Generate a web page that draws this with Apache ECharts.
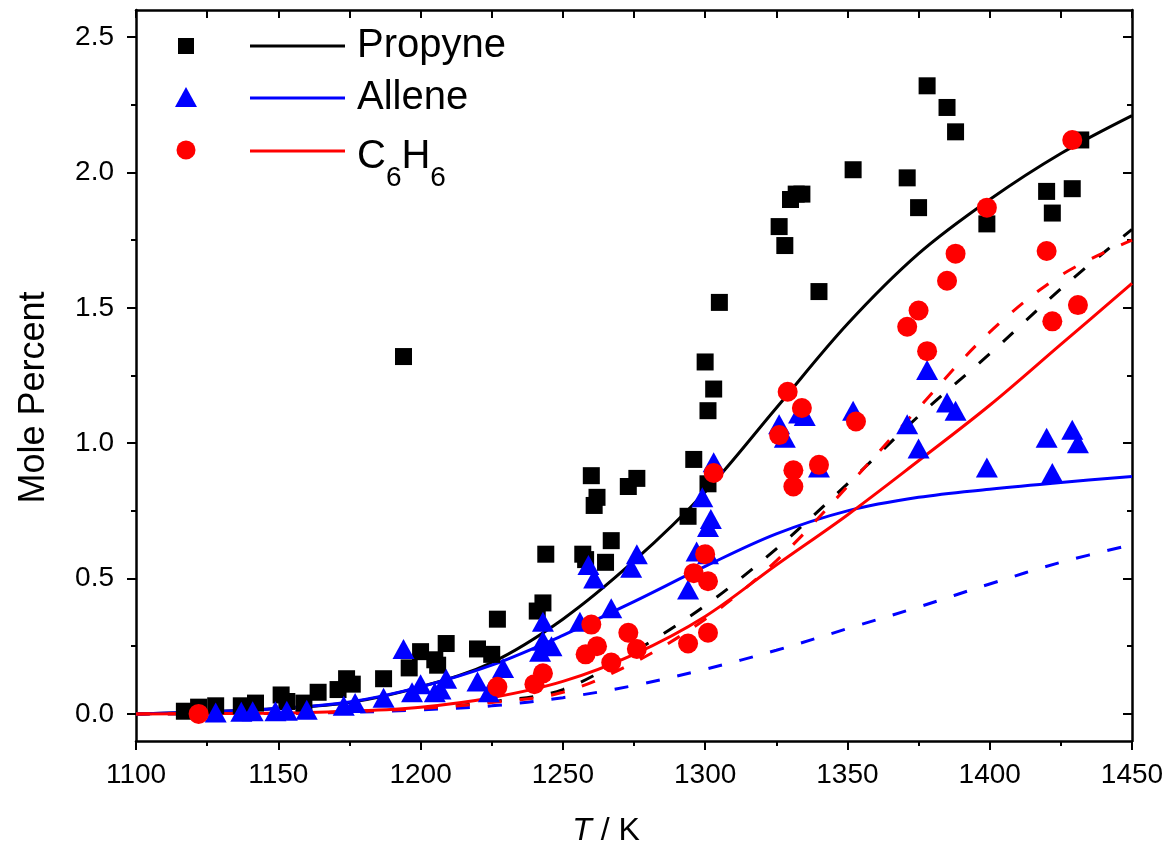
<!DOCTYPE html>
<html>
<head>
<meta charset="utf-8">
<script src="https://cdn.jsdelivr.net/npm/echarts@6/dist/echarts.min.js"></script>
<style>html,body{margin:0;padding:0;background:#fff}#c{width:1171px;height:857px}</style>
</head>
<body>
<div id="c"></div>
<script>
// ---------- data ----------
const propyneT = [1117,1122,1128,1137,1142,1151,1153,1159,1164,1171,1174,1176,1187,1196,1194,1200,1205,1206,1209,1220,1225,1227,1241,1243,1244,1257,1258,1260,1261,1262,1265,1267,1273,1276,1294,1296,1300,1301,1301,1303,1305,1326,1328,1330,1332,1334,1340,1352,1371,1375,1378,1385,1388,1399,1420,1422,1429,1432];
const propyneY = [0.01,0.025,0.03,0.03,0.04,0.07,0.046,0.04,0.08,0.09,0.13,0.11,0.13,0.17,1.32,0.23,0.20,0.18,0.26,0.24,0.22,0.35,0.38,0.41,0.59,0.59,0.57,0.88,0.77,0.80,0.56,0.64,0.84,0.87,0.73,0.94,1.30,1.12,0.85,1.20,1.52,1.80,1.73,1.90,1.92,1.92,1.56,2.01,1.98,1.87,2.32,2.24,2.15,1.81,1.93,1.85,1.94,2.12];

const alleneT = [1128,1137,1141,1149,1153,1160,1173,1177,1187,1194,1197,1200,1205,1207,1209,1220,1224,1229,1242,1243,1243,1246,1256,1259,1261,1267,1274,1276,1294,1297,1301,1299,1302,1303,1301,1326,1328,1333,1335,1340,1352,1371,1375,1378,1385,1388,1399,1420,1422,1429,1431];
const alleneY = [0.005,0.008,0.01,0.01,0.012,0.015,0.03,0.04,0.06,0.24,0.08,0.11,0.08,0.09,0.13,0.12,0.08,0.17,0.23,0.27,0.34,0.25,0.34,0.55,0.50,0.39,0.54,0.59,0.46,0.60,0.59,0.80,0.72,0.93,0.69,1.07,1.02,1.11,1.10,0.91,1.12,1.07,0.98,1.27,1.15,1.12,0.91,1.02,0.89,1.05,1.00];

const benzeneT = [1122,1227,1240,1243,1258,1260,1262,1267,1273,1276,1294,1296,1300,1301,1301,1303,1326,1329,1331,1331,1334,1340,1353,1371,1375,1378,1385,1388,1399,1420,1422,1429,1431];
const benzeneY = [0.0,0.10,0.11,0.15,0.22,0.33,0.25,0.19,0.30,0.24,0.26,0.52,0.59,0.49,0.30,0.89,1.03,1.19,0.84,0.90,1.13,0.92,1.08,1.43,1.49,1.34,1.60,1.70,1.87,1.71,1.45,2.12,1.51];

const curveT = [1100,1125,1150,1175,1200,1225,1250,1275,1300,1325,1350,1375,1400,1425,1450];
const propyneSolid  = [0,0.008,0.02,0.042,0.10,0.19,0.35,0.565,0.82,1.13,1.44,1.70,1.90,2.07,2.21];
const propyneDashed = [0,0.001,0.002,0.008,0.02,0.045,0.09,0.23,0.40,0.61,0.85,1.10,1.33,1.57,1.79];
const alleneSolid   = [0,0.008,0.02,0.044,0.10,0.18,0.29,0.415,0.545,0.665,0.75,0.80,0.83,0.855,0.877];
const alleneDashed  = [0,0.001,0.002,0.006,0.015,0.03,0.06,0.105,0.165,0.235,0.315,0.395,0.48,0.56,0.625];
const benzeneSolid  = [0,0.001,0.003,0.01,0.025,0.06,0.12,0.22,0.36,0.55,0.735,0.935,1.14,1.365,1.59];
const benzeneDashed = [0,0.001,0.002,0.008,0.02,0.042,0.08,0.19,0.35,0.565,0.84,1.13,1.41,1.62,1.75];

const yMajor = [0,0.5,1.0,1.5,2.0,2.5];
const yMinor = [0.25,0.75,1.25,1.75,2.25];

// ---------- chart ----------
const FONT = 'Liberation Sans, Arial, sans-serif';
const zip = (xs, ys) => xs.map((x, i) => [x, ys[i]]);
const chart = echarts.init(document.getElementById('c'), null, {renderer: 'canvas'});

const axisLineStyle = {color: '#000', width: 2.5};
const commonY = {type: 'value', min: -0.1, max: 2.6, splitLine: {show: false}};

function lineSeries(name, ys, color, dashed) {
  return {
    type: 'line', name: name, data: zip(curveT, ys), smooth: 0.35,
    symbol: 'none', showSymbol: false, silent: true, z: 2,
    lineStyle: {color: color, width: 3, type: dashed ? [14, 18] : 'solid'},
    itemStyle: {color: color}
  };
}

function markerLegend(name, cx, cy, w, h) {
  return {
    data: [name], left: cx - w / 2, top: cy - h / 2, itemWidth: w, itemHeight: h,
    formatter: () => '', selectedMode: false, padding: 0,
    itemStyle: {opacity: 1}
  };
}
function lineLegend(name, top) {
  return {
    data: [name], left: 250, top: top, itemWidth: 95, itemHeight: 3, icon: 'rect',
    selectedMode: false, padding: 0,
    textStyle: {
      fontSize: 40, lineHeight: 44, color: '#000', fontFamily: FONT, padding: [0, 0, 0, 7],
      rich: {
        m: {fontSize: 40, lineHeight: 44, color: '#000', fontFamily: FONT, verticalAlign: 'top', padding: [8, 0, 0, 0]},
        s: {fontSize: 28, lineHeight: 28, color: '#000', fontFamily: FONT, verticalAlign: 'top', padding: [35, 0, 0, 0]}
      }
    },
    formatter: n => n === 'C6H6' ? '{m|C}{s|6}{m|H}{s|6}' : n
  };
}

chart.setOption({
  animation: false,
  backgroundColor: '#fff',
  grid: {left: 136, right: 39, top: 10, bottom: 116, containLabel: false},
  legend: [
    markerLegend('Propyne pts', 186, 46, 16, 16),
    markerLegend('Allene pts', 186, 97, 22, 20),
    markerLegend('C6H6 pts', 186, 150, 19, 19),
    lineLegend('Propyne', 24),
    lineLegend('Allene', 76),
    lineLegend('C6H6', 129)
  ],
  xAxis: [
    {
      type: 'value', min: 1100, max: 1450, interval: 50, position: 'bottom',
      axisLine: {show: true, onZero: false, lineStyle: axisLineStyle},
      axisTick: {show: true, inside: false, length: 9, lineStyle: {color: '#000', width: 2}},
      minorTick: {show: true, splitNumber: 2, length: 5, lineStyle: {color: '#000', width: 2}},
      splitLine: {show: false},
      axisLabel: {fontSize: 28, color: '#000', margin: 20, fontFamily: FONT, formatter: v => String(v)},
      name: '{it|T} / K', nameLocation: 'middle', nameGap: 74,
      nameTextStyle: {fontSize: 32, color: '#000', fontFamily: FONT, padding: [0, 56, 0, 0],
        rich: {it: {fontStyle: 'italic', fontSize: 32, color: '#000', fontFamily: FONT}}}
    },
    {
      type: 'value', min: 1100, max: 1450, interval: 25, position: 'top',
      axisLine: {show: true, onZero: false, lineStyle: axisLineStyle},
      axisTick: {show: true, inside: true, length: 8, lineStyle: {color: '#000', width: 2}},
      axisLabel: {show: false}, splitLine: {show: false}
    }
  ],
  yAxis: [
    Object.assign({}, commonY, {
      position: 'left',
      axisLine: {show: true, onZero: false, lineStyle: axisLineStyle},
      axisTick: {show: true, inside: false, length: 9, customValues: yMajor, lineStyle: {color: '#000', width: 2}},
      axisLabel: {fontSize: 28, color: '#000', margin: 22, fontFamily: FONT, customValues: yMajor,
        formatter: v => v.toFixed(1)},
      name: 'Mole Percent', nameLocation: 'middle', nameGap: 84, nameRotate: 90,
      nameTextStyle: {fontSize: 36, color: '#000', fontFamily: FONT, padding: [0, 44, 0, 0]}
    }),
    Object.assign({}, commonY, {
      position: 'left',
      axisLine: {show: false},
      axisTick: {show: true, inside: false, length: 5, customValues: yMinor, lineStyle: {color: '#000', width: 2}},
      axisLabel: {show: false}
    }),
    Object.assign({}, commonY, {
      position: 'right',
      axisLine: {show: true, onZero: false, lineStyle: axisLineStyle},
      axisTick: {show: true, inside: true, length: 9, customValues: yMajor, lineStyle: {color: '#000', width: 2}},
      axisLabel: {show: false}
    }),
    Object.assign({}, commonY, {
      position: 'right',
      axisLine: {show: false},
      axisTick: {show: true, inside: true, length: 5, customValues: yMinor, lineStyle: {color: '#000', width: 2}},
      axisLabel: {show: false}
    })
  ],
  series: [
    lineSeries('Propyne', propyneSolid, '#000000', false),
    lineSeries('Propyne model 2', propyneDashed, '#000000', true),
    lineSeries('Allene', alleneSolid, '#0000ff', false),
    lineSeries('Allene model 2', alleneDashed, '#0000ff', true),
    lineSeries('C6H6', benzeneSolid, '#ff0000', false),
    lineSeries('C6H6 model 2', benzeneDashed, '#ff0000', true),
    {type: 'scatter', name: 'Propyne pts', symbol: 'rect', symbolSize: 17, z: 3,
      itemStyle: {color: '#000000', opacity: 1}, data: zip(propyneT, propyneY)},
    {type: 'scatter', name: 'Allene pts', symbol: 'triangle', symbolSize: [22, 20], z: 4,
      itemStyle: {color: '#0000ff', opacity: 1}, data: zip(alleneT, alleneY)},
    {type: 'scatter', name: 'C6H6 pts', symbol: 'circle', symbolSize: 20, z: 5,
      itemStyle: {color: '#ff0000', opacity: 1}, data: zip(benzeneT, benzeneY)}
  ]
});
</script>
</body>
</html>
